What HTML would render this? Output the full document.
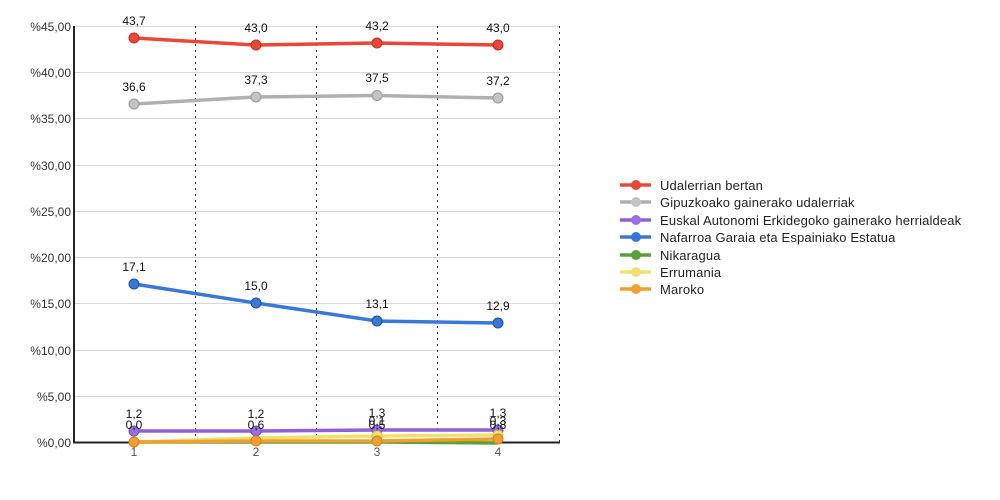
<!DOCTYPE html>
<html><head><meta charset="utf-8"><style>body{margin:0;background:#fff}svg{display:block;font-family:"Liberation Sans",sans-serif}</style></head><body>
<svg width="1000" height="500" viewBox="0 0 1000 500">
<g stroke="#d8d8d8" stroke-width="1">
<line x1="75" x2="560" y1="26.5" y2="26.5"/><line x1="75" x2="560" y1="72.5" y2="72.5"/><line x1="75" x2="560" y1="118.5" y2="118.5"/><line x1="75" x2="560" y1="165.5" y2="165.5"/><line x1="75" x2="560" y1="211.5" y2="211.5"/><line x1="75" x2="560" y1="257.5" y2="257.5"/><line x1="75" x2="560" y1="303.5" y2="303.5"/><line x1="75" x2="560" y1="350.5" y2="350.5"/><line x1="75" x2="560" y1="396.5" y2="396.5"/>
</g>
<g stroke="#333" stroke-width="1" stroke-dasharray="2,4">
<line x1="195.5" x2="195.5" y1="26" y2="442"/><line x1="316.5" x2="316.5" y1="26" y2="442"/><line x1="437.5" x2="437.5" y1="26" y2="442"/><line x1="559.5" x2="559.5" y1="26" y2="442"/>
</g>
<line x1="74" x2="74" y1="26" y2="443" stroke="#222" stroke-width="2"/>
<line x1="73" x2="560" y1="442.5" y2="442.5" stroke="#222" stroke-width="2"/>
<g font-size="12" fill="#333" text-anchor="end">
<text x="71" y="31">%45,00</text><text x="71" y="77">%40,00</text><text x="71" y="123">%35,00</text><text x="71" y="170">%30,00</text><text x="71" y="216">%25,00</text><text x="71" y="262">%20,00</text><text x="71" y="308">%15,00</text><text x="71" y="355">%10,00</text><text x="71" y="401">%5,00</text><text x="71" y="447">%0,00</text>
</g>
<g font-size="12" fill="#555" text-anchor="middle">
<text x="134" y="456">1</text><text x="256" y="456">2</text><text x="377" y="456">3</text><text x="498" y="456">4</text>
</g>
<g stroke-width="3.5" fill="none">
<polyline stroke="#e8483a" points="134,38 256,45 377,43 498,45"/>
<polyline stroke="#b0b0b0" points="134,104 256,97 377,95.5 498,98"/>
<polyline stroke="#3a78d8" points="134,284 256,303 377,321 498,323"/>
<polyline stroke="#8f60d8" points="134,431 256,431 377,430 498,430"/>
<polyline stroke="#5ba03a" points="134,442 256,442 377,442 498,443"/>
<polyline stroke="#f0e070" points="134,442 256,438 377,436 498,435"/>
<polyline stroke="#f0a030" points="134,442 256,441 377,441 498,439"/>
</g>
<g stroke-width="1">
<g fill="#e8483a" stroke="#c03020"><circle cx="134" cy="38" r="5"/><circle cx="256" cy="45" r="5"/><circle cx="377" cy="43" r="5"/><circle cx="498" cy="45" r="5"/></g>
<g fill="#c4c4c4" stroke="#999"><circle cx="134" cy="104" r="5"/><circle cx="256" cy="97" r="5"/><circle cx="377" cy="95.5" r="5"/><circle cx="498" cy="98" r="5"/></g>
<g fill="#3a78d8" stroke="#2050a0"><circle cx="134" cy="284" r="5"/><circle cx="256" cy="303" r="5"/><circle cx="377" cy="321" r="5"/><circle cx="498" cy="323" r="5"/></g>
<g fill="#9a70e0" stroke="#7050b0"><circle cx="134" cy="431" r="5"/><circle cx="256" cy="431" r="5"/><circle cx="377" cy="430" r="5"/><circle cx="498" cy="430" r="5"/></g>
<g fill="#f0e070" stroke="#d0c050"><circle cx="377" cy="436" r="5"/><circle cx="498" cy="435" r="5"/></g>
<g fill="#f0a030" stroke="#d08020"><circle cx="134" cy="442" r="5"/><circle cx="256" cy="441" r="5"/><circle cx="377" cy="441" r="5"/><circle cx="498" cy="439" r="5"/></g>
</g>
<g font-size="12" fill="#111" text-anchor="middle">
<text x="134" y="25">43,7</text><text x="256" y="32">43,0</text><text x="377" y="30">43,2</text><text x="498" y="32">43,0</text>
<text x="134" y="91">36,6</text><text x="256" y="84">37,3</text><text x="377" y="82">37,5</text><text x="498" y="85">37,2</text>
<text x="134" y="271">17,1</text><text x="256" y="290">15,0</text><text x="377" y="308">13,1</text><text x="498" y="310">12,9</text>
<text x="134" y="418">1,2</text><text x="256" y="418">1,2</text><text x="377" y="417">1,3</text><text x="498" y="417">1,3</text>
<text x="134" y="429">0,0</text><text x="256" y="429">0,6</text><text x="377" y="429">0,5</text><text x="498" y="429">0,8</text>
<text x="377" y="425">0,1</text><text x="498" y="425">0,3</text>
</g>
<g font-size="13" fill="#222">
<g stroke-width="3.5"><line x1="620" x2="651" y1="185" y2="185" stroke="#e8483a"/><line x1="620" x2="651" y1="202" y2="202" stroke="#b0b0b0"/><line x1="620" x2="651" y1="220" y2="220" stroke="#8f60d8"/><line x1="620" x2="651" y1="237" y2="237" stroke="#3a78d8"/><line x1="620" x2="651" y1="255" y2="255" stroke="#5ba03a"/><line x1="620" x2="651" y1="272" y2="272" stroke="#f0e070"/><line x1="620" x2="651" y1="289" y2="289" stroke="#f0a030"/></g>
<circle cx="636" cy="185" r="5" fill="#e8483a"/><circle cx="636" cy="202" r="5" fill="#c4c4c4"/><circle cx="636" cy="220" r="5" fill="#9a70e0"/><circle cx="636" cy="237" r="5" fill="#3a78d8"/><circle cx="636" cy="255" r="5" fill="#5ba03a"/><circle cx="636" cy="272" r="5" fill="#f0e070"/><circle cx="636" cy="289" r="5" fill="#f0a030"/>
<g letter-spacing="0.15"><text x="660" y="190">Udalerrian bertan</text><text x="660" y="207">Gipuzkoako gainerako udalerriak</text><text x="660" y="225">Euskal Autonomi Erkidegoko gainerako herrialdeak</text><text x="660" y="242">Nafarroa Garaia eta Espainiako Estatua</text><text x="660" y="260">Nikaragua</text><text x="660" y="277">Errumania</text><text x="660" y="294">Maroko</text></g>
</g>
</svg>
</body></html>
